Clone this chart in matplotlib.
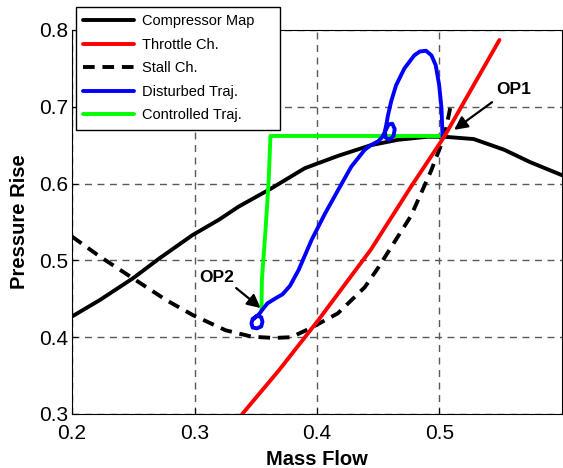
import matplotlib.pyplot as plt
import numpy as np

plt.rcParams['font.family'] = ['Liberation Sans', 'DejaVu Sans']

# compressor map (solid black)
comp_x = [0.2, 0.2227, 0.2497, 0.2714, 0.2984, 0.32, 0.336, 0.363, 0.39, 0.417, 0.444, 0.466,
          0.49, 0.504, 0.528, 0.553, 0.574, 0.6]
comp_y = [0.427, 0.4484, 0.4767, 0.5027, 0.533, 0.553, 0.570, 0.594, 0.620, 0.636, 0.650, 0.657,
          0.661, 0.661, 0.658, 0.644, 0.628, 0.611]

# throttle characteristic (red)
thr_x = [0.339, 0.369, 0.401, 0.444, 0.4768, 0.5039, 0.549]
thr_y = [0.300, 0.357, 0.422, 0.514, 0.596, 0.661, 0.787]

# stall characteristic (dashed black)
stall_x = [0.2, 0.2227, 0.2497, 0.2768, 0.2984, 0.3254, 0.347, 0.365, 0.379, 0.395, 0.417, 0.439,
           0.4498, 0.4768, 0.493, 0.504, 0.509]
stall_y = [0.531, 0.505, 0.4767, 0.4484, 0.429, 0.409, 0.4006, 0.399, 0.400, 0.412, 0.431, 0.465,
           0.490, 0.558, 0.616, 0.661, 0.700]

# disturbed trajectory (blue)
dist_x = [0.5025, 0.5025, 0.5017, 0.4998, 0.497, 0.4935, 0.489, 0.484, 0.4795, 0.4714, 0.4646,
          0.4606, 0.458, 0.457, 0.4555, 0.456, 0.459, 0.4625, 0.4635, 0.4615, 0.4585, 0.456,
          0.453, 0.4498, 0.444, 0.439, 0.428, 0.4174, 0.4066, 0.3957, 0.385, 0.378, 0.372,
          0.3655, 0.3595, 0.3555, 0.352, 0.3475, 0.3465, 0.3475, 0.351, 0.3545, 0.3555, 0.3545,
          0.351, 0.3485]
dist_y = [0.661, 0.663, 0.698, 0.728, 0.754, 0.767, 0.773, 0.772, 0.767, 0.750, 0.728,
          0.707, 0.689, 0.680, 0.668, 0.660, 0.657, 0.662, 0.671, 0.678, 0.677, 0.669,
          0.660, 0.655, 0.650, 0.644, 0.622, 0.592, 0.561, 0.527, 0.4875, 0.467, 0.456,
          0.450, 0.444, 0.436, 0.4285, 0.424, 0.418, 0.4125, 0.4115, 0.414, 0.420, 0.426,
          0.428, 0.424]

# controlled trajectory (green)
ctrl_x = [0.5025, 0.362, 0.3606, 0.358, 0.355, 0.3547]
ctrl_y = [0.662, 0.662, 0.605, 0.540, 0.474, 0.435]

xticks = [0.2, 0.3, 0.4, 0.5]
yticks = [0.3, 0.4, 0.5, 0.6, 0.7, 0.8]

fig = plt.figure(figsize=(5.63, 4.68), dpi=100)
ax = fig.add_axes([0.128, 0.1154, 0.87, 0.8205])

lw = 2.8
kw = dict(lw=lw, solid_joinstyle='round', solid_capstyle='round')
h1, = ax.plot(comp_x, comp_y, color='black', zorder=3, label='Compressor Map', **kw)
h3, = ax.plot(stall_x, stall_y, color='black', lw=lw, ls=(0, (3, 2)), zorder=3, label='Stall Ch.')
h5, = ax.plot(ctrl_x, ctrl_y, color='#00ff00', zorder=4, label='Controlled Traj.', **kw)
h4, = ax.plot(dist_x, dist_y, color='#0000ff', zorder=5, label='Disturbed Traj.', **kw)
h2, = ax.plot(thr_x, thr_y, color='#ff0000', zorder=6, label='Throttle Ch.', **kw)

ax.set_xlim(0.2, 0.6)
ax.set_ylim(0.3, 0.8)
ax.set_xticks(xticks)
ax.set_yticks(yticks)
ax.set_xticklabels(['%.1f' % v for v in xticks])
ax.set_yticklabels(['%.1f' % v for v in yticks])
ax.tick_params(direction='in', labelsize=15, length=4)
ax.tick_params(axis='x', pad=7.5)
ax.tick_params(axis='y', pad=3)
ax.grid(True, ls=(0, (5, 4)), color='0.35', lw=1)
ax.set_axisbelow(True)

ax.set_xlabel('Mass Flow', fontsize=14.5, fontweight='bold', labelpad=4.5)
ax.set_ylabel('Pressure Rise', fontsize=14.5, fontweight='bold', labelpad=7)

# operating point labels
arrow = dict(arrowstyle='-|>', color='black', lw=1.6, shrinkA=0, shrinkB=0, mutation_scale=20)
ax.text(0.561, 0.723, 'OP1', fontsize=12.5, fontweight='bold', ha='center', va='center')
ax.annotate('', xy=(0.512, 0.670), xytext=(0.543, 0.706), arrowprops=arrow)
ax.text(0.318, 0.478, 'OP2', fontsize=12.5, fontweight='bold', ha='center', va='center')
ax.annotate('', xy=(0.354, 0.438), xytext=(0.334, 0.464), arrowprops=arrow)

leg_h = 122 / 468
leg = ax.legend(handles=[h1, h2, h3, h4, h5], loc='upper left', mode='expand',
                bbox_to_anchor=(76 / 563, 1 - 7 / 468 - leg_h, 204 / 563, leg_h),
                bbox_transform=fig.transFigure,
                borderaxespad=0, fontsize=10.5, fancybox=False, framealpha=1, edgecolor='black',
                handlelength=3.5, borderpad=0.5, labelspacing=0.65, handletextpad=0.5)
leg.get_frame().set_linewidth(1)
leg.set_zorder(10)

fig.savefig('out.png', dpi=100)
